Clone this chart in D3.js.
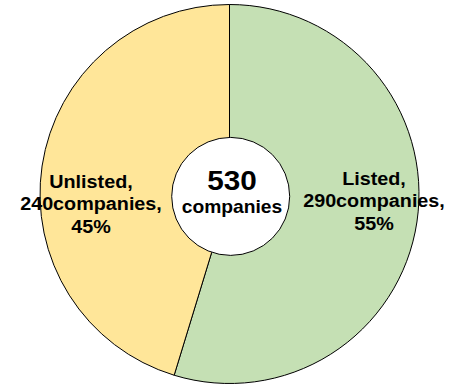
<!DOCTYPE html>
<html lang="en">
<head>
  <meta charset="UTF-8">
  <title>Companies</title>
  <style>
    body { margin: 0; background: #fff; }
    text { font-family: "Liberation Sans", Arial, sans-serif; font-weight: bold; fill: #000; }
  </style>
</head>
<body>
  <svg width="458" height="385"></svg>
  <script src="https://cdn.jsdelivr.net/npm/d3@7"></script>
  <script>
    var categories = ["Listed", "Unlisted"];
    var counts = [290, 240];
    var percents = ["55%", "45%"];
    var colors = ["#C5E0B4", "#FFE699"];
    var total = 530;

    var svg = d3.select("svg"),
        cx = 229.5, cy = 194,
        radius = 189.5;

    var data = categories.map(function(c, i) {
      return {name: c, count: counts[i], pct: percents[i], color: colors[i]};
    });

    var pie = d3.pie().sort(null).value(function(d) { return d.count; });
    var arc = d3.arc().innerRadius(0).outerRadius(radius);

    var g = svg.append("g").attr("transform", "translate(" + cx + "," + cy + ")");

    g.selectAll(".slice")
      .data(pie(data))
      .enter()
      .append("path")
      .attr("class", "slice")
      .attr("d", arc)
      .attr("fill", function(d) { return d.data.color; })
      .attr("stroke", "#000")
      .attr("stroke-width", 1);

    // hole
    g.append("circle")
      .attr("cx", 1.2)
      .attr("cy", 2.4)
      .attr("r", 59)
      .attr("fill", "#fff")
      .attr("stroke", "#000")
      .attr("stroke-width", 1);

    // slice labels (offsets from the centre)
    var labelPos = [[144.5, -9], [-138.5, -6]];
    var lbl = g.selectAll(".lbl")
      .data(data)
      .enter()
      .append("g")
      .attr("class", "lbl")
      .attr("transform", function(d, i) {
        return "translate(" + labelPos[i][0] + "," + labelPos[i][1] + ") scale(1.13,1)";
      });

    lbl.each(function(d) {
      var lines = [d.name + ",", d.count + "companies,", d.pct];
      d3.select(this).selectAll("text")
        .data(lines)
        .enter()
        .append("text")
        .attr("text-anchor", "middle")
        .attr("y", function(t, j) { return j * 22.5; })
        .style("font-size", "17.5px")
        .text(function(t) { return t; });
    });

    var centre = g.append("g").attr("transform", "translate(2.5,0) scale(1.1,1)");
    centre.append("text")
      .attr("text-anchor", "middle")
      .attr("y", -4.5)
      .style("font-size", "27px")
      .text(total);
    centre.append("text")
      .attr("text-anchor", "middle")
      .attr("y", 19)
      .style("font-size", "17.5px")
      .text("companies");
  </script>
</body>
</html>
